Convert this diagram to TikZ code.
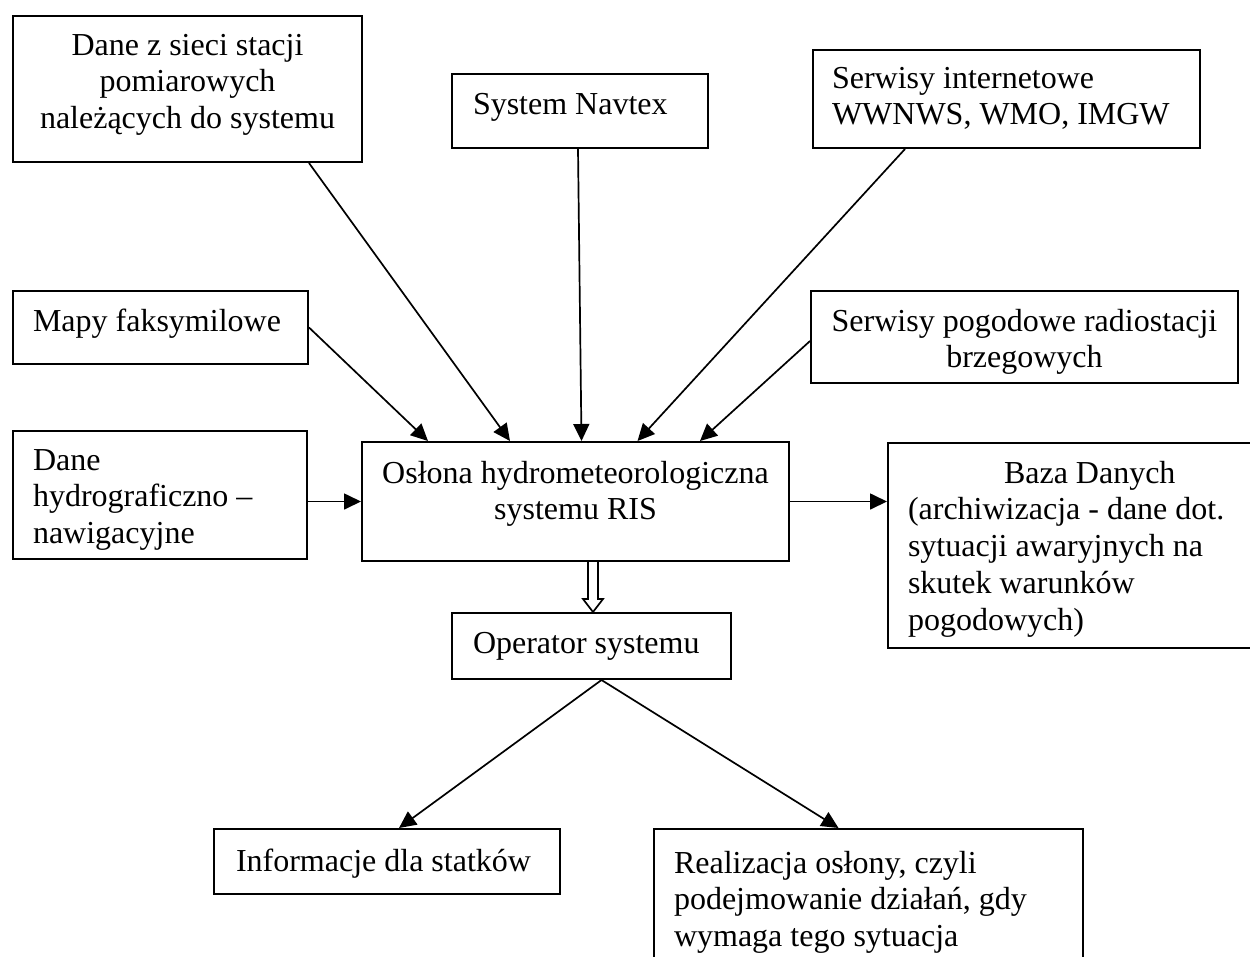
\documentclass[tikz,border=0pt]{standalone}
\usepackage{fontspec}
\setmainfont{Liberation Serif}
\usetikzlibrary{arrows.meta,calc}

% box text: width, height, first-baseline offset, left pad, content
\newcommand\bxtext[5]{%
  \begin{minipage}[c][#2pt][t]{#1pt}%
    \fontsize{32}{36.8}\selectfont
    \vspace*{\dimexpr #3pt-25.76pt\relax}%
    \raggedright\leftskip=#4pt\parindent=0pt
    \strut #5\par
  \end{minipage}}
\newcommand\bxcenter[4]{%
  \begin{minipage}[c][#2pt][t]{#1pt}%
    \fontsize{32}{36.8}\selectfont
    \vspace*{\dimexpr #3pt-25.76pt\relax}%
    \centering
    \strut #4\par
  \end{minipage}}

\tikzset{
  box/.style={draw, line width=2pt, inner sep=0pt, anchor=north west},
  link/.style={line width=1.7pt, -{Triangle[length=17pt,width=16pt]}}
}

\begin{document}
\begin{tikzpicture}[x=1pt, y=-1pt]
  \path[use as bounding box, clip] (0,0) rectangle (1250,956);
  \fill[white] (0,0) rectangle (1250,956);

  % sources
  \node[box] (siec) at (12,15)
    {\bxcenter{349}{146}{39}{Dane z sieci stacji\\pomiarowych\\należących do systemu}};
  \node[box] (navtex) at (451,73)
    {\bxtext{256}{74}{40}{21}{System Navtex}};
  \node[box] (www) at (812,49)
    {\bxtext{387}{98}{38}{19}{Serwisy internetowe\\WWNWS, WMO, IMGW}};
  \node[box] (mapy) at (12,290)
    {\bxtext{295}{73}{40}{20}{Mapy faksymilowe}};
  \node[box] (radio) at (810,290)
    {\bxcenter{427}{92}{40}{Serwisy pogodowe radiostacji\\brzegowych}};
  \node[box] (hydro) at (12,430)
    {\bxtext{294}{128}{39}{20}{Dane\\hydrograficzno –\\nawigacyjne}};

  % central block
  \node[box] (ris) at (361,441)
    {\bxcenter{427}{119}{41}{Osłona hydrometeorologiczna\\systemu RIS}};
  \node[box] (baza) at (887,442)
    {\bxtext{402}{205}{40}{20}{\hspace*{96pt}Baza Danych\\(archiwizacja - dane dot.\\sytuacji awaryjnych na\\skutek warunków\\pogodowych)}};
  \node[box] (op) at (451,612)
    {\bxtext{279}{66}{40}{21}{Operator systemu}};

  % outputs
  \node[box] (info) at (213,828)
    {\bxtext{346}{65}{42}{22}{Informacje dla statków}};
  \node[box] (real) at (653,828)
    {\bxtext{429}{150}{44}{20}{Realizacja osłony, czyli\\podejmowanie działań, gdy\\wymaga tego sytuacja}};

  % inputs into the central block
  \draw[link] ($(siec.south east)+(-54,0)$) -- ($(ris.north west)+(149,0)$);
  \draw[link] (mapy.east) -- ($(ris.north west)+(67,0)$);
  \draw[link] ($(navtex.south)+(-2,0)$) -- ($(ris.north)+(6,0)$);
  \draw[link] ($(www.south west)+(93,0)$) -- ($(ris.north)+(62,0)$);
  \draw[link] ($(radio.west)+(0,4)$) -- ($(ris.north east)+(-90,0)$);
  \draw[link] (hydro.east |- ris.west) -- (ris.west);
  \draw[link] (ris.east) -- (baza.west |- ris.east);

  % hollow arrow down to the operator
  \coordinate (ht) at ($(op.north)+(1.5,0)$);
  \coordinate (hb) at (ht |- ris.south);
  \draw[line width=1.7pt, fill=white, line join=miter]
    ($(hb)+(-5,0)$) -- ($(ht)+(-5,-13)$) -- ($(ht)+(-10,-13)$) -- (ht)
    -- ($(ht)+(10,-13)$) -- ($(ht)+(5,-13)$) -- ($(hb)+(5,0)$);

  % operator outputs
  \draw[link] ($(op.south)+(10,0)$) -- ($(info.north)+(12,0)$);
  \draw[link] ($(op.south)+(10,0)$) -- ($(real.north)+(-30,0)$);
\end{tikzpicture}
\end{document}
